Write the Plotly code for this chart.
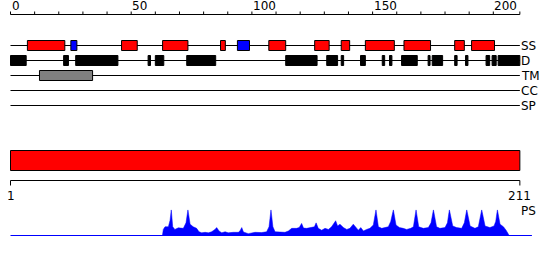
import plotly.graph_objects as go

# ---------------- data ----------------
SEQ_LEN = 211
track_names = ["SS", "D", "TM", "CC", "SP"]

# Secondary structure: H = helix (red), E = strand (blue)
ss_start = [7, 25, 46, 63, 87, 94, 107, 126, 137, 147, 163, 184, 191]
ss_end = [22.5, 27.5, 52.5, 73.5, 89, 99, 114, 132, 140.5, 159, 174, 188, 200.5]
ss_type = ["H", "E", "H", "H", "H", "E", "H", "H", "H", "H", "H", "H", "H"]

# Disorder
d_start = [0, 22, 27, 57, 60, 73, 114, 131, 137, 145, 154, 157, 162, 173, 174.7,
           184, 188.5, 197, 199.5, 202]
d_end = [6.5, 24, 44.5, 58, 63.5, 85, 127, 135.5, 138, 147, 155, 158, 168.5, 173.8, 179,
         185, 189.5, 198.5, 201.2, 211]

# Transmembrane
tm_start = [12]
tm_end = [34]

# Ruler
ruler_ticks = list(range(0, 201, 10)) + [211]
ruler_labels = [0, 50, 100, 150, 200]

# PS profile
ps_pos = [62.9, 63.3, 64.0, 65.4, 66.1, 66.6, 67.2, 68.1, 69.5, 71.6, 72.7, 73.5, 74.4, 75.7,
          77.1, 78.1, 79.2, 80.6, 82.0, 83.3, 84.7, 85.4, 86.4, 87.5, 88.9, 90.2, 92.3, 94.4,
          95.1, 95.8, 96.5, 98.5, 101.3, 104.0, 106.1, 107.1, 107.9, 108.7, 109.6, 111.6,
          113.7, 115.1, 116.5, 118.5, 119.6, 120.6, 121.4, 122.7, 124.1, 125.9, 126.6, 127.5,
          128.9, 130.3, 131.7, 133.0, 134.7, 135.5, 136.5, 137.9, 139.3, 140.6, 142.0, 143.1,
          144.1, 145.1, 146.2, 147.5, 148.9, 150.3, 151.4, 152.4, 153.8, 155.1, 156.5, 157.5,
          158.6, 159.7, 161.1, 162.7, 164.1, 165.8, 166.9, 168.0, 169.1, 171.0, 173.1, 174.2,
          175.2, 176.5, 177.9, 180.0, 181.0, 181.8, 183.2, 184.8, 186.9, 188.0, 189.0, 190.4,
          192.4, 193.8, 195.2, 196.6, 198.6, 200.3, 201.0, 201.7, 202.8, 204.2, 205.3, 206.7]
ps_val = [0, 0.25, 0.35, 0.35, 0.6, 1.0, 0.35, 0.25, 0.31, 0.29, 0.5, 1.0, 0.45, 0.35,
          0.29, 0.16, 0.12, 0.14, 0.12, 0.16, 0.25, 0.32, 0.19, 0.12, 0.16, 0.12, 0.14, 0.14,
          0.2, 0.32, 0.15, 0.09, 0.14, 0.13, 0.16, 0.35, 1.0, 0.35, 0.16, 0.14,
          0.14, 0.19, 0.29, 0.29, 0.32, 0.48, 0.3, 0.29, 0.31, 0.35, 0.5, 0.29,
          0.22, 0.29, 0.25, 0.35, 0.58, 0.38, 0.45, 0.32, 0.25, 0.29, 0.45, 0.35,
          0.22, 0.32, 0.19, 0.25, 0.29, 0.42, 1.0, 0.35, 0.29, 0.32, 0.35, 0.55,
          1.0, 0.42, 0.32, 0.29, 0.25, 0.29, 0.35, 1.0, 0.35, 0.29, 0.32, 0.5,
          1.0, 0.35, 0.29, 0.32, 0.5, 1.0, 0.38, 0.32, 0.29, 0.5, 1.0, 0.38,
          0.29, 0.35, 1.0, 0.38, 0.32, 0.38, 0.55, 1.0, 0.45, 0.35, 0.22, 0]
ps_axis_end = 216

# ---------------- layout constants (pixel frame) ----------------
W, H = 550, 260
X0_PX = 10.5
PX_PER_RES = 2.414
x_lo = -X0_PX / PX_PER_RES
x_hi = x_lo + W / PX_PER_RES

RULER_Y = 14.5
TRACK_Y0 = 45.5
TRACK_DY = 15
BOX_H = 10
SEQ_BAR_Y = 160.5
SEQ_BAR_H = 20
AXIS2_Y = 180.5
PS_BASE_Y = 235.5
PS_TOP_Y = 209.7

RED = "#FF0000"
BLUE = "#0000FF"
GRAY = "#808080"
BLACK = "#000000"
FONT = "DejaVu Sans"

fig = go.Figure()
track_y = {name: TRACK_Y0 + i * TRACK_DY for i, name in enumerate(track_names)}


def hbar(starts, ends, y, height, color, line_w=1):
    fig.add_trace(go.Bar(
        orientation="h",
        base=starts,
        x=[e - s for s, e in zip(starts, ends)],
        y=[y] * len(starts),
        width=height,
        marker=dict(color=color, line=dict(color=BLACK, width=line_w)),
        showlegend=False, hoverinfo="skip",
    ))


# track base lines
for name in track_names:
    hbar([0], [SEQ_LEN], track_y[name], 1, BLACK, line_w=0)

# SS features
for t, col in (("H", RED), ("E", BLUE)):
    s = [a for a, k in zip(ss_start, ss_type) if k == t]
    e = [b for b, k in zip(ss_end, ss_type) if k == t]
    hbar(s, e, track_y["SS"], BOX_H, col)

hbar(d_start, d_end, track_y["D"], BOX_H, BLACK)
hbar(tm_start, tm_end, track_y["TM"], BOX_H, GRAY)

# whole-sequence bar
hbar([0], [SEQ_LEN], SEQ_BAR_Y, SEQ_BAR_H, RED)

# PS baseline (pixel frame, crisp)
hbar([0], [ps_axis_end], PS_BASE_Y, 1, BLUE, line_w=0)

# top ruler
fig.add_trace(go.Scatter(x=[0, SEQ_LEN], y=[RULER_Y, RULER_Y], mode="lines",
                         line=dict(color=BLACK, width=1), showlegend=False, hoverinfo="skip"))
tx, ty = [], []
for t in ruler_ticks:
    tx += [t, t, None]
    ty += [RULER_Y - 3, RULER_Y, None]
fig.add_trace(go.Scatter(x=tx, y=ty, mode="lines", line=dict(color=BLACK, width=1),
                         showlegend=False, hoverinfo="skip"))
for v in ruler_labels:
    fig.add_annotation(x=v, y=6, xref="x", yref="y", text=str(v), showarrow=False,
                       xanchor="left", yanchor="middle", borderpad=0,
                       font=dict(family=FONT, size=12, color=BLACK))

# lower axis under sequence bar
fig.add_trace(go.Scatter(x=[0, SEQ_LEN], y=[AXIS2_Y, AXIS2_Y], mode="lines",
                         line=dict(color=BLACK, width=1), showlegend=False, hoverinfo="skip"))
fig.add_trace(go.Scatter(x=[0, 0, None, SEQ_LEN, SEQ_LEN], y=[AXIS2_Y, AXIS2_Y + 5, None, AXIS2_Y, AXIS2_Y + 5],
                         mode="lines", line=dict(color=BLACK, width=1), showlegend=False, hoverinfo="skip"))
for v, txt in ((0, "1"), (SEQ_LEN, str(SEQ_LEN))):
    fig.add_annotation(x=v, y=196, xref="x", yref="y", text=txt, showarrow=False,
                       xanchor="center", yanchor="middle", borderpad=0,
                       font=dict(family=FONT, size=12, color=BLACK))

# track labels
for name in track_names:
    fig.add_annotation(x=SEQ_LEN, y=track_y[name], xref="x", yref="y", text=name, showarrow=False,
                       xanchor="left", yanchor="middle", borderpad=0, xshift=0.5,
                       font=dict(family=FONT, size=12, color=BLACK))
fig.add_annotation(x=SEQ_LEN, y=211, xref="x", yref="y", text="PS", showarrow=False,
                   xanchor="left", yanchor="middle", borderpad=0, xshift=0.5,
                   font=dict(family=FONT, size=12, color=BLACK))

# PS profile
fig.add_trace(go.Scatter(x=ps_pos, y=ps_val, yaxis="y2", mode="lines", fill="tozeroy",
                         fillcolor=BLUE, line=dict(color=BLUE, width=0.5),
                         showlegend=False, hoverinfo="skip"))

fig.update_layout(
    width=W, height=H,
    margin=dict(l=0, r=0, t=0, b=0),
    paper_bgcolor="white", plot_bgcolor="rgba(0,0,0,0)",
    barmode="overlay",
    xaxis=dict(range=[x_lo, x_hi], visible=False, fixedrange=True),
    yaxis=dict(range=[H, 0], visible=False, fixedrange=True),
    yaxis2=dict(domain=[(H - PS_BASE_Y - 0.5) / H, (H - PS_TOP_Y) / H], range=[0, 1],
                anchor="x", visible=False, fixedrange=True),
    font=dict(family=FONT),
)

fig.write_html("out.html")
